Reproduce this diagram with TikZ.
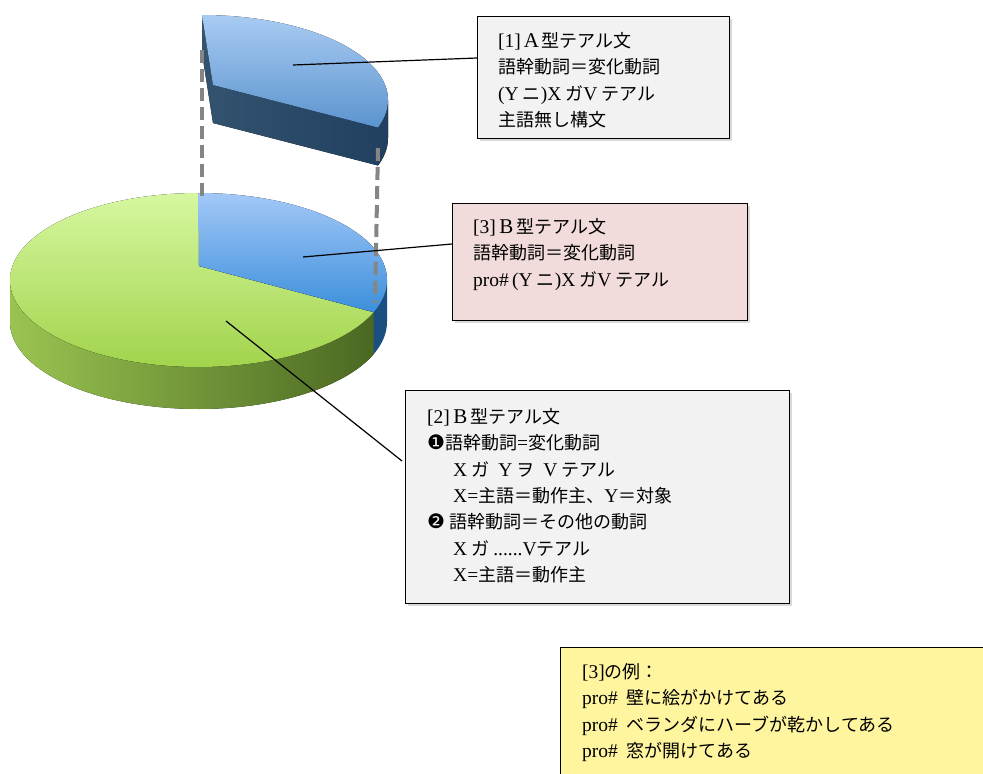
\documentclass[tikz,border=0pt]{standalone}
\usepackage{fontspec}
\setmainfont{Noto Sans CJK JP}
\newfontfamily\tmfont{Liberation Serif}
\newfontfamily\djfont{DejaVu Sans}
\newcommand\TT[1]{{\tmfont\fontsize{19.5}{26.4}\selectfont #1}}
\newcommand\FW[1]{\makebox[21pt]{\tmfont\fontsize{21}{26.4}\selectfont #1}}
\newcommand\BL[1]{{\djfont\fontsize{20}{26.4}\selectfont #1}}
\usetikzlibrary{shadows}
\definecolor{gtopA}{HTML}{D6F7A0}
\definecolor{gtopB}{HTML}{A2D44C}
\definecolor{gsideL}{HTML}{9AC451}
\definecolor{gsideR}{HTML}{4B6822}
\definecolor{btopA}{HTML}{A3C8F7}
\definecolor{btopB}{HTML}{3C8FDC}
\definecolor{bside}{HTML}{1B4F80}
\definecolor{utopA}{HTML}{A9CBF2}
\definecolor{utopB}{HTML}{5B94CF}
\definecolor{usideL}{HTML}{33536F}
\definecolor{usideR}{HTML}{213F5F}
\definecolor{guidegray}{HTML}{858585}
\definecolor{boxgray}{HTML}{F2F2F2}
\definecolor{boxpink}{HTML}{F2DCDB}
\definecolor{boxyellow}{HTML}{FFF59F}
\begin{document}
\begin{tikzpicture}[x=1pt,y=-1pt,
  box/.style={draw=black, line width=1.4pt, anchor=north west, inner sep=0pt,
    drop shadow={shadow xshift=2pt, shadow yshift=-2pt, opacity=0.3}},
  txt/.style={anchor=north west, align=left, inner sep=0pt,
    font=\fontsize{18}{26.4}\selectfont},
  leader/.style={draw=black, line width=1.2pt},
  guide/.style={draw=guidegray, line width=4pt, dash pattern=on 13pt off 6pt}]
\useasboundingbox (0,0) rectangle (983,774);

% ---- lower pie: sides
\fill[left color=gsideL, right color=gsideR]
  plot[domain=21.7:180, samples=80] ({198.5+188.5*cos(\x)},{280+87*sin(\x)})
  -- plot[domain=0:158.3, samples=80] ({198.5+188.5*cos(180-\x)},{322+87*sin(180-\x)})
  -- cycle;
\fill[bside]
  plot[domain=0:21.7, samples=20] ({198.5+188.5*cos(\x)},{280+87*sin(\x)})
  -- plot[domain=0:21.7, samples=20] ({198.5+188.5*cos(21.7-\x)},{322+87*sin(21.7-\x)})
  -- cycle;
% ---- lower pie: top faces
\fill[top color=gtopA, bottom color=gtopB]
  (199,266) -- plot[domain=21.7:270, samples=120] ({198.5+188.5*cos(\x)},{280+87*sin(\x)}) -- cycle;
\fill[top color=btopA, bottom color=btopB]
  (199,266) -- plot[domain=-90:21.7, samples=80] ({198.5+188.5*cos(\x)},{280+87*sin(\x)}) -- cycle;

% ---- upper exploded slice
\fill[left color=usideL, right color=usideR]
  (202,15) -- (202,53) -- (213,123) -- (378,165.5)
  -- plot[domain=0:18.9, samples=20] ({202+186*cos(18.9-\x)},{138+85*sin(18.9-\x)})
  -- (388,100) -- cycle;
\fill[top color=utopA, bottom color=utopB]
  (213,85) -- plot[domain=-90:18.9, samples=80] ({202+186*cos(\x)},{100+85*sin(\x)}) -- cycle;

% ---- guide lines
\coordinate (gl1) at (202,50);
\coordinate (gl2) at (202,196);
\coordinate (gr1) at (378,148);
\coordinate (gr2) at (375,303);
\draw[guide] (gl1) -- (gl2);
\draw[guide] (gr1) -- (gr2);

% ---- boxes
\node[box, fill=boxgray, minimum width=252pt, minimum height=122pt] (b1) at (477,16) {};
\node[box, fill=boxpink, minimum width=295pt, minimum height=117pt] (b3) at (452,203) {};
\node[box, fill=boxgray, minimum width=384pt, minimum height=213pt] (b2) at (405,390) {};
\node[box, fill=boxyellow, minimum width=440pt, minimum height=150pt] (b4) at (560,647) {};

% ---- texts
\node[txt] (t1) at ([xshift=21pt,yshift=-16pt]b1.north west) {%
\TT{[1]}\FW{A}型テアル文\\
語幹動詞＝変化動詞\\
\TT{(Y} ニ\TT{)X} ガ\TT{V} テアル\\
主語無し構文};
\node[txt] (t3) at ([xshift=21pt,yshift=-15pt]b3.north west) {%
\TT{[3]}\FW{B}型テアル文\\
語幹動詞＝変化動詞\\
\TT{pro\#\,(Y} ニ\TT{)X} ガ\TT{V} テアル};
\node[txt] (t2) at ([xshift=22pt,yshift=-18pt]b2.north west) {%
\TT{[2]}\FW{B}型テアル文\\
\BL{❶}語幹動詞\TT{=}変化動詞\\
\hspace*{26pt}\TT{X} ガ\enspace\TT{Y} ヲ\enspace\TT{V} テアル\\
\hspace*{26pt}\TT{X=}主語＝動作主、\TT{Y}＝対象\\
\BL{❷} 語幹動詞＝その他の動詞\\
\hspace*{26pt}\TT{X} ガ \TT{......V}テアル\\
\hspace*{26pt}\TT{X=}主語＝動作主};
\node[txt] (t4) at ([xshift=22pt,yshift=-16pt]b4.north west) {%
\TT{[3]}の例：\\
\TT{pro\#}\enspace 壁に絵がかけてある\\
\TT{pro\#}\enspace ベランダにハーブが乾かしてある\\
\TT{pro\#}\enspace 窓が開けてある};

% ---- leaders
\coordinate (s1) at (293,65);
\coordinate (s3) at (303,257);
\coordinate (s2) at (226,321);
\draw[leader] (s1) -- ([yshift=-42pt]b1.north west);
\draw[leader] (s3) -- ([yshift=-41pt]b3.north west);
\draw[leader] (s2) -- ([xshift=-3pt,yshift=-71pt]b2.north west);
\end{tikzpicture}
\end{document}
